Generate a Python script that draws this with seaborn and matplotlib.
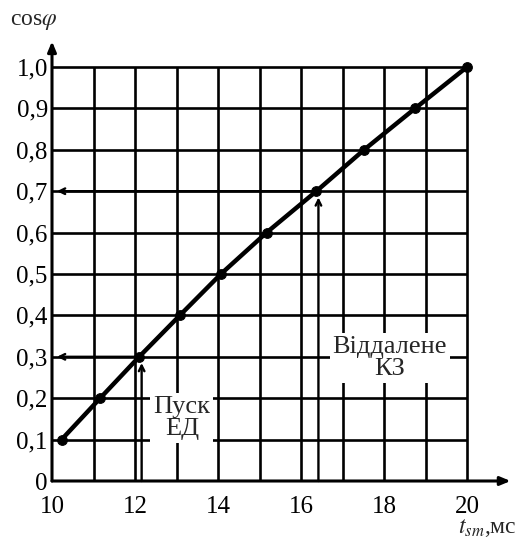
import numpy as np
import pandas as pd
import seaborn as sns
import matplotlib.pyplot as plt

# data
cos_phi = [0.1, 0.2, 0.3, 0.4, 0.5, 0.6, 0.7, 0.8, 0.9, 1.0]
t_sm = [10.23, 11.16, 12.1, 13.08, 14.07, 15.17, 16.37, 17.52, 18.75, 20.0]
x_ticks = [10, 12, 14, 16, 18, 20]
y_ticks = [0, 0.1, 0.2, 0.3, 0.4, 0.5, 0.6, 0.7, 0.8, 0.9, 1.0]
y_tick_labels = ['0', '0,1', '0,2', '0,3', '0,4', '0,5', '0,6', '0,7', '0,8', '0,9', '1,0']
marks = [(12.16, 12.1, 0.3), (16.42, 16.37, 0.7)]  # arrow x, point x, cos
notes = [(13.13, 0.152, 'Пуск\nЕД'), (18.14, 0.297, 'Віддалене\nКЗ')]

df = pd.DataFrame({'t': t_sm, 'cos': cos_phi})

sns.set_style('white')
plt.rcParams['font.family'] = ['Liberation Serif', 'DejaVu Serif']
plt.rcParams['mathtext.fontset'] = 'stix'

fig = plt.figure(figsize=(5.31, 5.41), dpi=100)
ax = fig.add_axes([52 / 531, 60 / 541, 11.2 * 41.5 / 531, 1.06 * 414 / 541])
ax.set_xlim(10, 21.2)
ax.set_ylim(0, 1.06)

# grid
ax.vlines(np.arange(11, 21), 0, 1.0, color='black', lw=1.9, zorder=1)
ax.hlines(np.arange(1, 11) / 10, 10, 20, color='black', lw=1.9, zorder=1)

# curve
sns.lineplot(data=df, x='t', y='cos', ax=ax, color='black', lw=3.2,
             marker='o', markersize=7, markeredgecolor='black', zorder=4)

# guide arrows
for ax_x, px, cv in marks:
    ax.annotate('', xy=(ax_x, cv - 0.015), xytext=(ax_x, 0),
                arrowprops=dict(arrowstyle='->', color='black', lw=1.7,
                                shrinkA=0, shrinkB=0), zorder=3)
    ax.annotate('', xy=(10.12, cv), xytext=(px, cv),
                arrowprops=dict(arrowstyle='->', color='black', lw=1.7,
                                shrinkA=0, shrinkB=0), zorder=3)

for x, y, s in notes:
    ax.text(x, y, s, ha='center', va='center', fontsize=19, linespacing=1.05,
            bbox=dict(facecolor='white', edgecolor='none', pad=2), zorder=5)

# axes with arrows
for sp in ax.spines.values():
    sp.set_visible(False)
ax.annotate('', xy=(21.05, 0), xytext=(10, 0),
            arrowprops=dict(arrowstyle='-|>,head_length=0.6,head_width=0.25',
                            color='black', lw=2.2, shrinkA=0, shrinkB=0),
            annotation_clip=False, zorder=6)
ax.annotate('', xy=(10, 1.062), xytext=(10, 0),
            arrowprops=dict(arrowstyle='-|>,head_length=0.6,head_width=0.25',
                            color='black', lw=2.2, shrinkA=0, shrinkB=0),
            annotation_clip=False, zorder=6)

ax.set_xticks(x_ticks)
ax.set_xticklabels([str(v) for v in x_ticks])
ax.set_yticks(y_ticks)
ax.set_yticklabels(y_tick_labels)
ax.tick_params(length=0, labelsize=18, colors='black')
ax.tick_params(axis='x', pad=11)
ax.tick_params(axis='y', pad=3)
ax.set_xlabel('')
ax.set_ylabel('')

fig.text(10 / 531, 1 - 22 / 541, r'cos$\varphi$', fontsize=17, ha='left', va='center')
fig.text(458 / 531, 13 / 541, r'$t_{sm}$,мс', fontsize=17, ha='left', va='center')

fig.savefig('out.png', dpi=100)
